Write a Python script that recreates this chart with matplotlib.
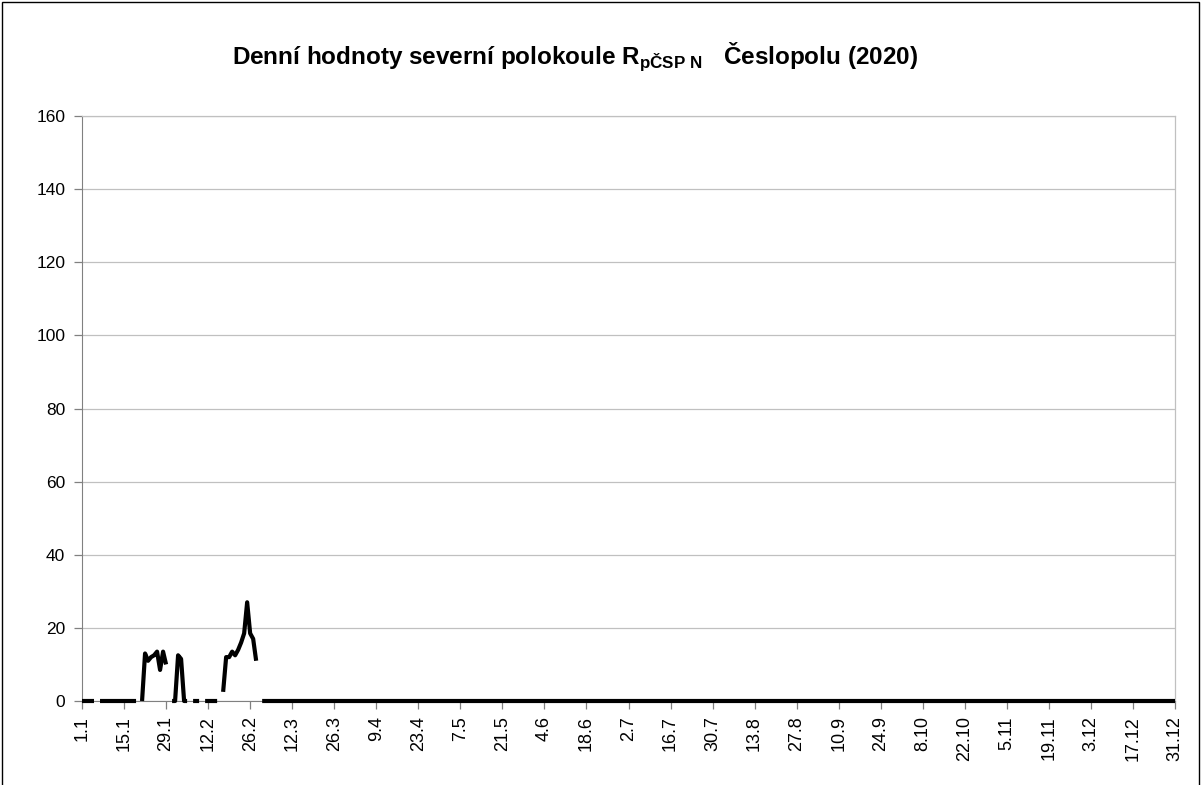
import matplotlib
matplotlib.use("Agg")
import matplotlib.pyplot as plt
from matplotlib.patches import Rectangle

plt.rcParams['font.family'] = ['Liberation Sans', 'DejaVu Sans']
plt.rcParams['mathtext.fontset'] = 'custom'
plt.rcParams['mathtext.rm'] = 'Liberation Sans'
plt.rcParams['mathtext.bf'] = 'Liberation Sans:bold'

# Daily values for the first 60 days (None = missing day)
early_values = [
    0, 0, 0, 0, 0, None,
    0, 0, 0, 0, 0, 0, 0, 0, 0, 0, 0, 0, 0, None,
    0, 13, 11, 12, 12.5, 13.5, 8.5, 13.5, 10, None,
    0, 0, 12.5, 11.5, 0, 0, None,
    0, 0, 0, None,
    0, 0, 0, 0, 0, None,
    2.5, 12, 12, 13.5, 12.5, 14, 16, 18.5, 27, 18.5, 17, 11, None,
]
# remaining days of the year are all zero
rest_value = 0
rest_days = 365 - len(early_values)
values = early_values + [rest_value] * rest_days

tick_labels = ["1.1", "15.1", "29.1", "12.2", "26.2", "12.3", "26.3", "9.4", "23.4",
               "7.5", "21.5", "4.6", "18.6", "2.7", "16.7", "30.7", "13.8", "27.8",
               "10.9", "24.9", "8.10", "22.10", "5.11", "19.11", "3.12", "17.12", "31.12"]
tick_step = 14
y_ticks = [0, 20, 40, 60, 80, 100, 120, 140, 160]

days = list(range(len(values)))
yvals = [float('nan') if v is None else v for v in values]

fig = plt.figure(figsize=(12.03, 7.85), dpi=100)
ax = fig.add_axes([82/1203, 1 - 701/785, (1175-82)/1203, (701-116)/785])

ax.plot(days, yvals, color='black', linewidth=3.0, solid_capstyle='butt', zorder=3, clip_on=False)

ax.set_xlim(0, len(values) - 1)
ax.set_ylim(0, 160)
ax.set_yticks(y_ticks)
ax.set_yticklabels([str(v) for v in y_ticks], fontsize=12.5)
ax.set_xticks([i * tick_step for i in range(len(tick_labels))])
ax.set_xticklabels(tick_labels, rotation=90, fontsize=13)

ax.grid(axis='y', color='#c0c0c0', linewidth=0.9)
ax.set_axisbelow(True)
for s in ['top', 'right']:
    ax.spines[s].set_color('#c0c0c0')
    ax.spines[s].set_linewidth(0.9)
ax.spines['left'].set_color('#808080')
ax.spines['bottom'].set_color('#808080')
ax.tick_params(axis='both', direction='out', length=6, color='#808080', width=0.9)
ax.tick_params(axis='y', pad=6)
ax.tick_params(axis='x', pad=5)

fig.text(575/1203, 1 - 57/785,
         r"Denní hodnoty severní polokoule R$_{\mathbf{pČSP\ N}}$   Česlopolu (2020)",
         ha='center', va='center', fontsize=17.5, fontweight='bold')

fig.patches.append(Rectangle((2/1203, -0.05), 1197/1203, 1.05 - 2/785, transform=fig.transFigure,
                             fill=False, edgecolor='black', linewidth=1.0))

fig.savefig("out.png", dpi=100)
